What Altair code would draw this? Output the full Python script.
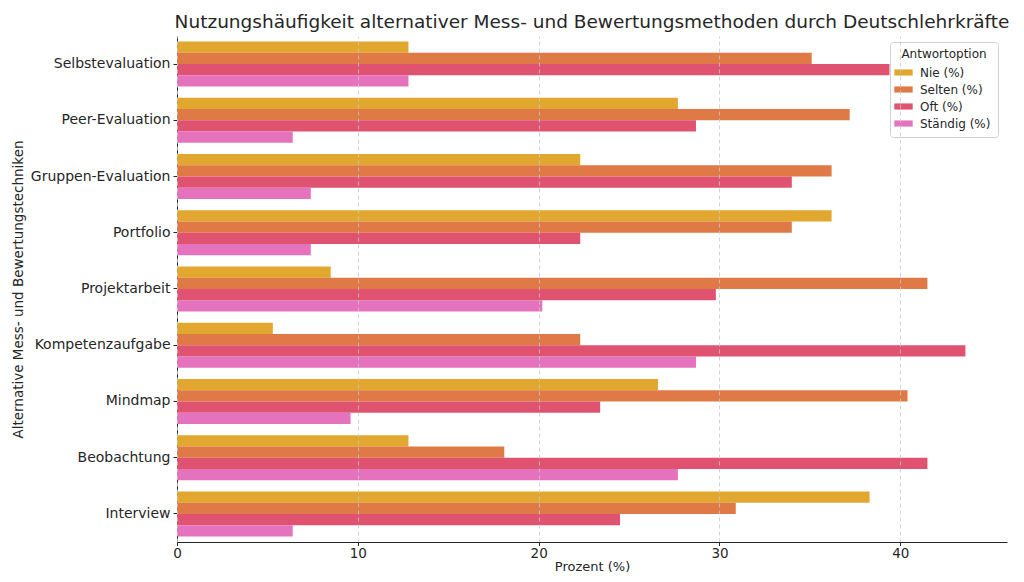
import altair as alt
import pandas as pd

categories = ["Selbstevaluation", "Peer-Evaluation", "Gruppen-Evaluation", "Portfolio",
              "Projektarbeit", "Kompetenzaufgabe", "Mindmap", "Beobachtung", "Interview"]
series = ["Nie (%)", "Selten (%)", "Oft (%)", "Ständig (%)"]
nie = [12.8, 27.7, 22.3, 36.2, 8.5, 5.3, 26.6, 12.8, 38.3]
selten = [35.1, 37.2, 36.2, 34.0, 41.5, 22.3, 40.4, 18.1, 30.9]
oft = [39.4, 28.7, 34.0, 22.3, 29.8, 43.6, 23.4, 41.5, 24.5]
staendig = [12.8, 6.4, 7.4, 7.4, 20.2, 28.7, 9.6, 27.7, 6.4]
colors = ["#E0A224", "#DD723C", "#DD4A68", "#E46AB8"]

rows = []
for vals, s in zip([nie, selten, oft, staendig], series):
    for c, v in zip(categories, vals):
        rows.append({"Technik": c, "Antwortoption": s, "Prozent": v})
df = pd.DataFrame(rows)

font = "DejaVu Sans"

chart = alt.Chart(df).mark_bar(opacity=0.95).encode(
    y=alt.Y("Technik:N", sort=categories,
            scale=alt.Scale(paddingInner=0.2, paddingOuter=0.1),
            axis=alt.Axis(title="Alternative Mess- und Bewertungstechniken",
                          labelFontSize=14, titleFontSize=13.5, titleFontWeight="normal",
                          labelColor="#262626", titleColor="#262626", titlePadding=5,
                          tickSize=4, tickColor="#262626", domainColor="#262626",
                          labelPadding=3, grid=False)),
    yOffset=alt.YOffset("Antwortoption:N", sort=series),
    x=alt.X("Prozent:Q", scale=alt.Scale(domain=[0, 45.9], nice=False),
            axis=alt.Axis(title="Prozent (%)", values=[0, 10, 20, 30, 40], format="d",
                          labelFontSize=13.5, titleFontSize=13, titleFontWeight="normal",
                          labelColor="#262626", titleColor="#262626", titlePadding=0,
                          tickSize=3.5, tickColor="#262626", domainColor="#262626",
                          labelPadding=1, labelFlush=False,
                          grid=True, gridDash=[4, 3], gridColor="#c8c8c8", gridOpacity=0.8,
                          zindex=1)),
    color=alt.Color("Antwortoption:N", sort=series,
                    scale=alt.Scale(domain=series, range=colors),
                    legend=alt.Legend(title="Antwortoption", orient="none", legendX=713, legendY=6,
                                      titleFontSize=12, labelFontSize=12, titleFontWeight="normal",
                                      titleColor="#262626", labelColor="#262626", titleAnchor="middle",
                                      symbolType="M-1.5,-0.5H1.5V0.5H-1.5Z", symbolSize=150,
                                      symbolStrokeWidth=0, symbolOpacity=0.95,
                                      fillColor="white", strokeColor="#d0d0d0", cornerRadius=3,
                                      padding=7, rowPadding=4, labelOffset=10)),
).properties(
    width=830, height=506,
    padding={"left": 169, "top": 28, "right": 9, "bottom": 32},
    autosize=alt.AutoSizeParams(type="none"),
    title=alt.Title("Nutzungshäufigkeit alternativer Mess- und Bewertungsmethoden durch Deutschlehrkräfte",
                    fontSize=18.5, fontWeight="normal", color="#262626", anchor="middle", offset=5),
).configure(font=font).configure_view(stroke=None)

chart.save("out.html", embed_options={"renderer": "svg", "actions": False})
